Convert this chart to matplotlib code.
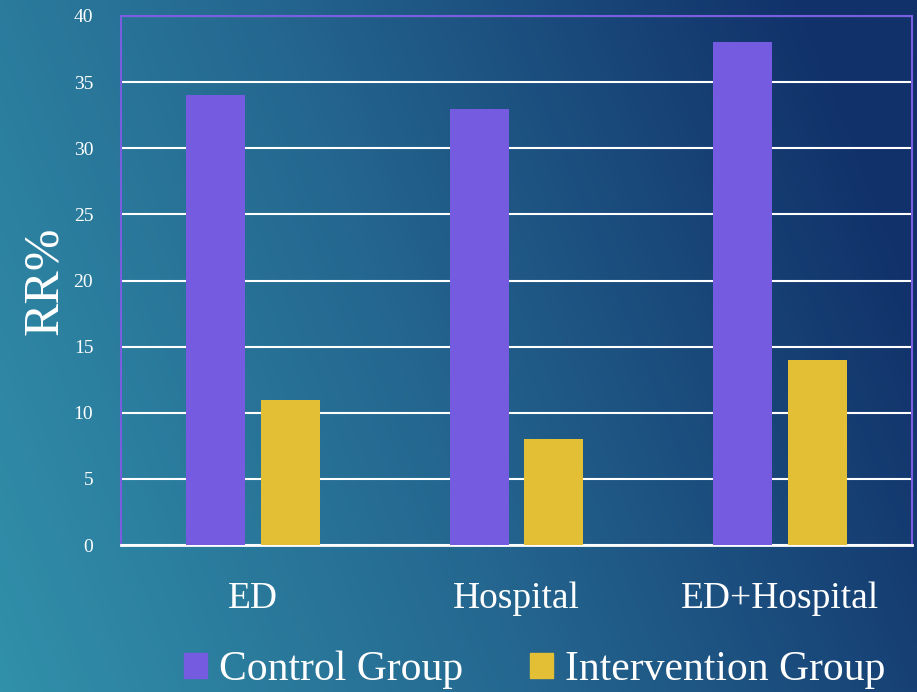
import numpy as np
import matplotlib.pyplot as plt
from matplotlib.colors import LinearSegmentedColormap
from matplotlib.patches import Patch

categories = ["ED", "Hospital", "ED+Hospital"]
control = [34, 33, 38]
intervention = [11, 8, 14]
yticks = [0, 5, 10, 15, 20, 25, 30, 35, 40]

plt.rcParams['font.family'] = ['Liberation Serif', 'DejaVu Serif']

fig = plt.figure(figsize=(9.17, 6.92), dpi=100)

# Gradient background (teal on the left to navy top-right)
bg = fig.add_axes([0, 0, 1, 1], zorder=-10)
xx, yy = np.meshgrid(np.linspace(0, 1, 300), np.linspace(0, 1, 300))
t = np.clip(0.85 * xx + 0.25 * yy, 0, 1)
cmap = LinearSegmentedColormap.from_list("bg", ["#3190aa", "#24668f", "#11316a"])
bg.imshow(t, cmap=cmap, origin="lower", aspect="auto", extent=[0, 1, 0, 1])
bg.axis("off")

ax = fig.add_axes([121 / 917, 1 - 545 / 692, 791 / 917, 529 / 692])
ax.patch.set_alpha(0)

x = np.arange(len(categories))
w = 0.224
off = 0.1415
ax.bar(x - off, control, w, color="#755bdf", zorder=3, label="Control Group")
ax.bar(x + off, intervention, w, color="#e3bf35", zorder=3, label="Intervention Group")

ax.set_xlim(-0.5, 2.5)
ax.set_ylim(0, 40)
ax.set_yticks(yticks)
ax.set_xticks(x)
ax.set_xticklabels(categories)
ax.yaxis.grid(True, color="white", linewidth=1.5, zorder=0)
ax.tick_params(axis="y", length=0, colors="white", labelsize=14, pad=20)
ax.tick_params(axis="x", length=0, colors="white", labelsize=27, pad=26)

for s in ["left", "top", "right"]:
    ax.spines[s].set_color("#7a5ee0")
    ax.spines[s].set_linewidth(1.5)
ax.spines["bottom"].set_color("white")
ax.spines["bottom"].set_linewidth(2)

ax.set_ylabel("RR%", color="white", fontsize=36, labelpad=4)

handles = [Patch(color="#755bdf"), Patch(color="#e3bf35")]
fig.legend(handles, ["Control Group", "Intervention Group"], loc="center",
           bbox_to_anchor=(0.583, 0.032), ncol=2, frameon=False, fontsize=30,
           labelcolor="white", handlelength=0.55, handleheight=0.55,
           handletextpad=0.3, columnspacing=1.6)

plt.savefig("out.png", dpi=100)
